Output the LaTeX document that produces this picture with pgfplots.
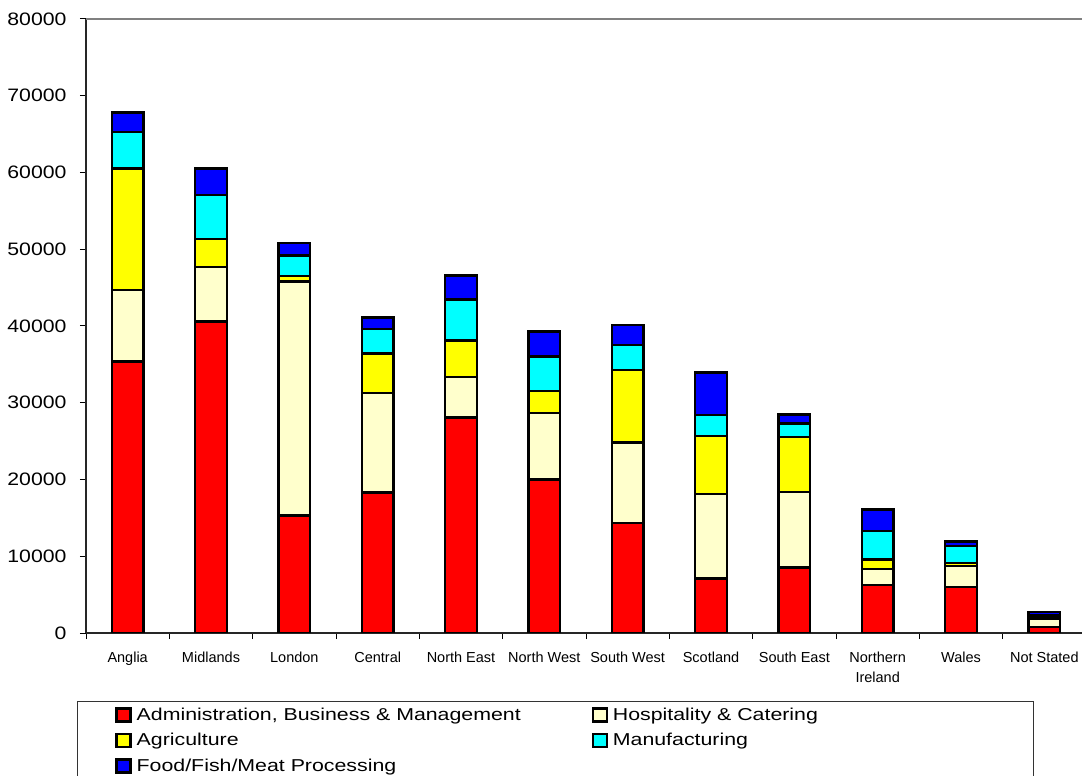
\documentclass[border=0pt]{standalone}
\usepackage{pgfplots}
\usepackage{pgfplotstable}
\usepackage{fontspec}
\pgfplotsset{compat=1.18}
\setmainfont{Liberation Sans}
\newfontfamily\yfont{Liberation Sans}[FakeStretch=1.18]
\newfontfamily\legfont{Liberation Sans}[FakeStretch=1.24]

\definecolor{cAdmin}{HTML}{FF0000}
\definecolor{cHosp}{HTML}{FFFFCC}
\definecolor{cAgri}{HTML}{FFFF00}
\definecolor{cManu}{HTML}{00FFFF}
\definecolor{cFood}{HTML}{0000FF}

% regions in chart order: admin, hospitality, agriculture, manufacturing, food
\pgfplotstableread{
x admin hosp agri manu food
0  35400 9300  15800 4800 2500
1  40600 7100  3600  5800 3400
2  15300 30500 700   2700 1600
3  18300 13000 5100  3200 1500
4  28100 5250  4750  5350 3150
5  20000 8650  2850  4550 3250
6  14300 10500 9500  3250 2600
7  7100  11000 7600  2700 5550
8  8550  9850  7150  1750 1150
9  6250  2050  1300  3700 2800
10 6000  2700  450   2150 600
11 800   1000  200   350  400
}\jobs

\begin{document}
\begin{tikzpicture}
\path[use as bounding box] (0,0) rectangle (1082bp,776bp);
\begin{axis}[
  at={(86bp,143bp)}, anchor=south west,
  scale only axis, width=1000bp, height=614bp,
  ybar stacked, bar width=31.5bp,
  xmin=-0.5, xmax=11.5, ymin=0, ymax=80000,
  axis x line*=bottom, axis y line*=left,
  axis line style={-, line width=1.2bp, black!85},
  xtick={-0.5,0.5,1.5,2.5,3.5,4.5,5.5,6.5,7.5,8.5,9.5,10.5,11.5},
  x tick label as interval,
  xticklabels={Anglia,Midlands,London,Central,North East,North West,South West,Scotland,South East,Northern\\Ireland,Wales,Not Stated},
  xticklabel style={font=\fontsize{14.5bp}{20bp}\selectfont, align=center, yshift=-9bp},
  ytick={0,10000,...,80000},
  scaled y ticks=false,
  yticklabel style={font=\yfont\fontsize{18bp}{21bp}\selectfont, xshift=-10bp},
  /pgf/number format/1000 sep={},
  /pgf/number format/assume math mode=true,
  tick align=outside, major tick length=6bp,
  tick style={black, line width=1bp},
  every axis plot/.append style={draw=black, line width=2.4bp},
  legend image code/.code={\draw[#1, line width=2.2bp] (0bp,-6.5bp) rectangle (14bp,6.5bp);},
  legend columns=2, legend cell align=left,
  legend style={at={(-0.009,-0.1107)}, anchor=north west,
    draw=black!80, line width=1bp, inner xsep=38bp, inner ysep=0.75bp,
    row sep=0pt, font=\legfont\fontsize{17.2bp}{20bp}\selectfont,
    nodes={inner sep=0pt, minimum height=25.5bp},
    /tikz/every odd column/.append style={column sep=5bp},
    /tikz/every even column/.append style={column sep=0pt}},
]
\addplot[fill=cAdmin] table[x=x, y=admin] {\jobs};
\addlegendentry{\makebox[455bp][l]{Administration, Business \& Management}}
\addplot[fill=cHosp] table[x=x, y=hosp] {\jobs};
\addlegendentry{\makebox[383bp][l]{Hospitality \& Catering}}
\addplot[fill=cAgri] table[x=x, y=agri] {\jobs};
\addlegendentry{\makebox[455bp][l]{Agriculture}}
\addplot[fill=cManu] table[x=x, y=manu] {\jobs};
\addlegendentry{\makebox[383bp][l]{Manufacturing}}
\addplot[fill=cFood] table[x=x, y=food] {\jobs};
\addlegendentry{\makebox[455bp][l]{Food/Fish/Meat Processing}}
\draw[gray, line width=1.2bp] (rel axis cs:0,1) -- (rel axis cs:1,1);
\end{axis}
\end{tikzpicture}
\end{document}
